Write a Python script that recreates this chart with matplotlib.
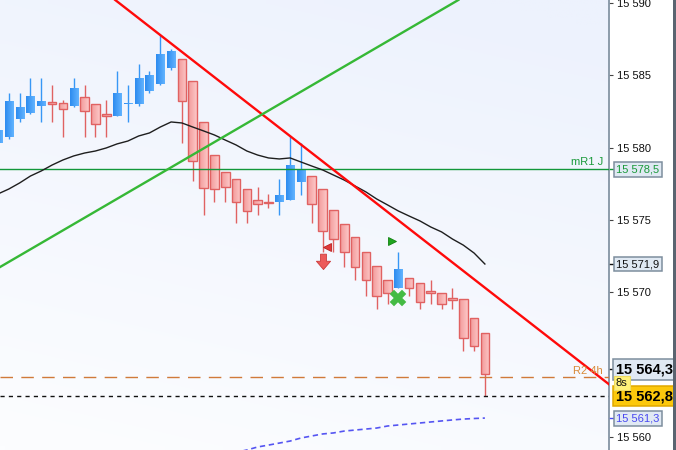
import numpy as np
import matplotlib
matplotlib.use('Agg')
import matplotlib.pyplot as plt
from matplotlib.patches import Rectangle
from matplotlib.transforms import blended_transform_factory
from matplotlib.path import Path
from matplotlib.ticker import FuncFormatter

plt.rcParams['font.family'] = ['Liberation Sans', 'DejaVu Sans']

# ---------------- data ----------------
opens = [15580.3, 15580.7, 15582.0, 15582.4, 15582.9, 15583.12, 15583.1, 15582.9, 15583.5, 15583.0,
         15582.3, 15582.2, 15583.03, 15583.0, 15583.9, 15584.4, 15585.5, 15586.1, 15584.6, 15581.8,
         15579.5, 15578.3, 15577.8, 15577.1, 15576.4, 15576.25, 15576.2, 15576.4, 15577.6, 15578.0,
         15577.1, 15575.7, 15574.7, 15573.8, 15572.8, 15571.8, 15570.8, 15570.3, 15571.0, 15570.6,
         15570.05, 15569.9, 15569.6, 15569.5, 15568.2, 15567.2]
highs = [15581.4, 15583.8, 15583.8, 15584.8, 15584.8, 15584.3, 15583.3, 15584.8, 15584.3, 15583.0,
         15583.3, 15585.3, 15584.3, 15585.8, 15585.3, 15587.8, 15586.8, 15586.1, 15584.6, 15581.8,
         15579.5, 15578.3, 15577.8, 15577.1, 15577.3, 15576.8, 15577.8, 15580.8, 15580.3, 15578.0,
         15577.1, 15575.7, 15574.7, 15573.8, 15572.8, 15571.8, 15570.8, 15572.8, 15571.0, 15570.6,
         15570.8, 15569.9, 15570.3, 15569.5, 15568.2, 15567.2]
lows = [15579.9, 15580.6, 15581.8, 15582.3, 15581.8, 15581.8, 15580.7, 15582.8, 15580.7, 15580.7,
        15580.7, 15582.2, 15581.8, 15582.9, 15583.8, 15584.3, 15585.4, 15580.3, 15577.7, 15575.3,
        15576.2, 15576.2, 15574.8, 15574.8, 15575.3, 15575.8, 15575.3, 15576.4, 15576.7, 15574.8,
        15572.8, 15572.8, 15571.7, 15570.8, 15569.7, 15568.8, 15569.2, 15570.3, 15569.7, 15568.8,
        15569.2, 15568.8, 15568.8, 15565.9, 15565.9, 15562.8]
closes = [15581.2, 15583.2, 15582.8, 15583.6, 15583.2, 15583.02, 15582.7, 15584.1, 15582.5, 15581.6,
          15582.2, 15583.8, 15583.1, 15584.8, 15585.0, 15586.5, 15586.7, 15583.2, 15579.1, 15577.2,
          15577.1, 15577.3, 15576.2, 15575.6, 15576.1, 15576.15, 15576.7, 15578.8, 15578.5, 15576.1,
          15574.2, 15573.7, 15572.8, 15571.7, 15570.8, 15569.7, 15569.9, 15571.6, 15570.3, 15569.3,
          15569.95, 15569.2, 15569.45, 15566.8, 15566.3, 15564.3]

ma_values = [15576.79, 15577.13, 15577.55, 15578.03, 15578.38, 15578.79, 15579.14, 15579.42, 15579.62, 15579.76,
             15579.97, 15580.25, 15580.45, 15580.80, 15581.01, 15581.42, 15581.77, 15581.70, 15581.42, 15581.15,
             15580.87, 15580.52, 15580.18, 15579.76, 15579.48, 15579.28, 15579.21, 15579.28, 15579.00, 15578.72,
             15578.45, 15578.10, 15577.75, 15577.34, 15576.93, 15576.44, 15576.03, 15575.61, 15575.26, 15574.92,
             15574.50, 15574.16, 15573.67, 15573.25, 15572.70, 15571.94]

band_start = 22
band_values = [15558.9, 15559.07, 15559.28, 15559.41, 15559.55, 15559.69, 15559.90, 15560.04, 15560.18, 15560.25,
               15560.38, 15560.45, 15560.52, 15560.59, 15560.73, 15560.80, 15560.87, 15560.94, 15561.01, 15561.08,
               15561.15, 15561.21, 15561.25, 15561.28]

red_trend = [(16, 15587.2), (56.5, 15563.6)]
green_trend = [(0, 15571.65), (40, 15589.1)]

mr1_level = 15578.5
r2_level = 15564.1
bid_level = 15562.8

sell_arrow = (30, 15572.08)
sell_tri = (30.4, 15573.12)
buy_tri = (36.4, 15573.5)
buy_cross = (37, 15569.6)

yticks = [15560, 15570, 15575, 15580, 15585, 15590]

# ---------------- figure ----------------
W, H = 676, 450
fig = plt.figure(figsize=(W / 100, H / 100), dpi=100)
fig.patch.set_facecolor('white')
ax = fig.add_axes([0, 0, 609 / W, 1])
XL = (0.185, 56.47)
YL = (15559.07, 15590.21)

# background gradient
ny, nx = 64, 64
yy = np.linspace(0, 1, ny)[:, None]
xx = np.linspace(0, 1, nx)[None, :]
t = np.clip(0.8 * yy + 0.25 * xx, 0, 1)[..., None]
c_top = np.array([252, 253, 255]) / 255
c_bot = np.array([237, 242, 253]) / 255
bg = (1 - t) * c_top + t * c_bot
ax.imshow(bg, extent=(XL[0], XL[1], YL[1], YL[0]), aspect='auto', zorder=0,
          interpolation='bilinear', origin='upper')


def grad_rect(x0, y0, w, h, c1, c2, edge=None, z=3):
    rect = Rectangle((x0, y0), w, h, facecolor='none',
                     edgecolor=edge if edge else 'none', lw=1.0, zorder=z + 0.1)
    ax.add_patch(rect)
    g = np.linspace(0, 1, 16)[None, :, None]
    img = (1 - g) * np.array(c1)[None, None, :] + g * np.array(c2)[None, None, :]
    im = ax.imshow(img, extent=(x0, x0 + w, y0, y0 + h), aspect='auto', zorder=z,
                   interpolation='bilinear')
    im.set_clip_path(rect)


RED_EDGE = '#e06262'
BLUE = '#3797f5'
for i, (o, h, l, c) in enumerate(zip(opens, highs, lows, closes)):
    up = c >= o
    col = BLUE if up else RED_EDGE
    ax.vlines(i, l, h, color=col, lw=1.0, zorder=2)
    lo, hi = min(o, c), max(o, c)
    hgt = max(hi - lo, 0.07)
    if up:
        grad_rect(i - 0.38, lo, 0.76, hgt, (0.18, 0.55, 0.94), (0.38, 0.70, 1.0), None)
    else:
        grad_rect(i - 0.4, lo, 0.8, hgt, (0.95, 0.60, 0.60), (0.99, 0.78, 0.78), RED_EDGE)

# moving average
ax.plot(np.arange(len(ma_values)), ma_values, color='#1e1e1e', lw=1.0, zorder=5)

# lower band (dotted blue)
ax.plot(np.arange(band_start, band_start + len(band_values)), band_values, color='#5555f2',
        lw=1.2, dashes=(3.2, 2.2), zorder=5)

# trend lines
ax.axline(red_trend[0], red_trend[1], color='#ff0a0a', lw=1.7, zorder=6)
ax.axline(green_trend[0], green_trend[1], color='#36b836', lw=1.7, zorder=6)

# horizontal levels
ax.axhline(mr1_level, color='#12973a', lw=1.0, zorder=4)
ax.axhline(r2_level, color='#d07a3a', lw=1.0, dashes=(9, 6), zorder=4)
ax.axhline(bid_level, color='#111111', lw=1.0, dashes=(3, 3), zorder=4)

ax.text(55.9, mr1_level + 0.12, 'mR1 J', color='#1a9a3a', fontsize=8, ha='right', va='bottom', zorder=7)
ax.text(55.9, r2_level + 0.12, 'R2 4h', color='#d88a3a', fontsize=8, ha='right', va='bottom', zorder=7)

# signals
arrow = Path([(-0.35, 1.0), (0.35, 1.0), (0.35, 0.15), (0.85, 0.15), (0.0, -0.85),
              (-0.85, 0.15), (-0.35, 0.15), (-0.35, 1.0)],
             [Path.MOVETO] + [Path.LINETO] * 6 + [Path.CLOSEPOLY])
ax.plot(*sell_arrow, marker=arrow, ms=12, color='#ec5a5a', mec='#cc3a3a', mew=0.6, zorder=7)
ax.plot(*sell_tri, marker='<', ms=6, color='#e03a3a', mec='#b82020', mew=0.6, zorder=7)
ax.plot(*buy_tri, marker='>', ms=6, color='#1fa51f', mec='#108010', mew=0.6, zorder=7)
ax.plot(*buy_cross, marker='X', ms=11, color='#44bb44', mec='#44bb44', mew=0.3, zorder=7)

ax.set_xlim(*XL)
ax.set_ylim(*YL)
ax.set_xticks([])
ax.yaxis.tick_right()
ax.set_yticks(yticks)
ax.yaxis.set_major_formatter(FuncFormatter(lambda v, p: f"{int(round(v)):,}".replace(',', ' ')))
ax.tick_params(axis='y', direction='out', length=3, width=0.8, color='#444444', pad=2.5,
               labelsize=8, labelcolor='#111111')
for s in ['top', 'left', 'bottom']:
    ax.spines[s].set_visible(False)
ax.spines['right'].set_color('#8494a4')
ax.spines['right'].set_linewidth(1.3)

# right side value boxes
tr = blended_transform_factory(fig.transFigure, ax.transData)


def box(val, text, color, face, edge, size=8, bold=False, x=616):
    ax.text(x / W, val, text, transform=tr, fontsize=size, color=color,
            fontweight='bold' if bold else 'normal', ha='left', va='center', zorder=10,
            clip_on=False,
            bbox=dict(boxstyle='square,pad=0.22', facecolor=face, edgecolor=edge, lw=1.1))


box(mr1_level, '15 578,5', '#1a9a3a', '#e0e9f3', '#7d8e9e')
box(ma_values[-1], '15 571,9', '#111111', '#e0e9f3', '#7d8e9e')
box(closes[-1] + 0.35, '15 564,3', '#000000', '#e0e9f3', '#7d8e9e', size=10.5, bold=True)
box(bid_level, '15 562,8', '#000000', '#fcc80c', '#e0a800', size=10.5, bold=True)
ax.text(616 / W, 15563.7, '8s', transform=tr, fontsize=8, color='#111111', ha='left', va='center',
        zorder=11, clip_on=False,
        bbox=dict(boxstyle='square,pad=0.2', facecolor='#fff27a', edgecolor='#f0dc60', lw=0.8))
box(band_values[-1], '15 561,3', '#4848f0', '#e0e9f3', '#7d8e9e')

# little tick marks next to boxes
for v, c in [(ma_values[-1], '#111111'), (closes[-1] + 0.35, '#111111'), (band_values[-1], '#4848f0'),
             (mr1_level, '#12973a')]:
    ax.plot([609.5 / W, 613 / W], [v, v], transform=tr, color=c, lw=1, clip_on=False, zorder=9)

# dark frame at right edge
fig.patches.append(Rectangle((673 / W, 0), 3 / W, 1, transform=fig.transFigure,
                             facecolor='#5a6470', edgecolor='none', zorder=20))

fig.savefig('out.png', dpi=100)
